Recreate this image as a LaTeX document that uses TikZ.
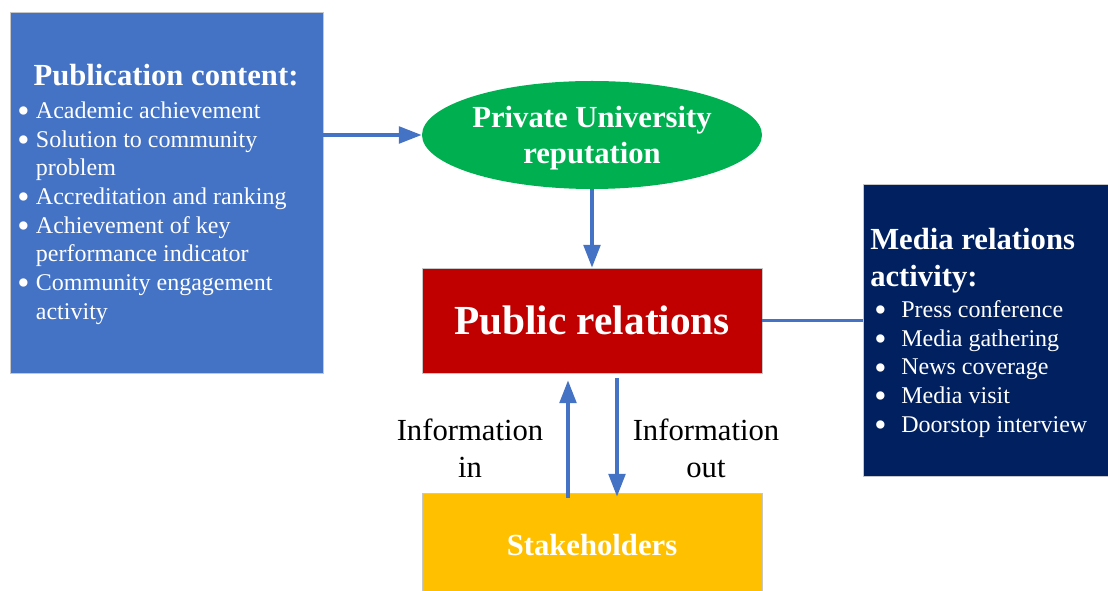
\documentclass[tikz,border=0pt]{standalone}
\usepackage{fontspec}
\setmainfont{Liberation Serif}
\usepackage{xcolor}
\usetikzlibrary{arrows.meta,shapes.geometric}
\definecolor{pubBlue}{HTML}{4472C4}
\definecolor{repGreen}{HTML}{00B050}
\definecolor{prRed}{HTML}{C00000}
\definecolor{stakeGold}{HTML}{FFC000}
\definecolor{mediaNavy}{HTML}{002060}
\newcommand{\itemfont}{\fontsize{18}{21.5}\selectfont}
\newcommand{\headfont}{\fontsize{23}{27.75}\selectfont\bfseries}
\newcommand{\bigdot}{\raisebox{-3.2pt}[0pt][0pt]{\scalebox{1.45}{\textbullet}}}
\newcommand{\lbul}{\makebox[14pt][l]{\bigdot}}
\newcommand{\rbul}{\makebox[20.25pt][l]{\bigdot}}

\begin{document}
\begin{tikzpicture}[x=0.75pt,y=-0.75pt,
    box/.style={draw=black!22, line width=0.6pt, inner sep=0pt, text=white},
    flow/.style={draw=pubBlue, line width=2.4pt, -{Triangle[length=17pt,width=12.5pt]}},
    link/.style={draw=pubBlue, line width=2.4pt}]
     \useasboundingbox (0,0) rectangle (1108,591);
     % Boxes.
     \node[box, draw=none, fill=repGreen, ellipse, minimum width=255pt, minimum height=81pt,
           font=\headfont] (rep) at (592,135)
           {\raisebox{-2.5pt}[\height][\depth]{\fontsize{23}{27}\selectfont\begin{tabular}{@{}c@{}}Private University\\reputation\end{tabular}}};
     \node[box, fill=pubBlue, minimum width=234.75pt, minimum height=270.75pt] (pub) at (166.5,192.5) {};
     \node[box, fill=prRed, minimum width=255pt, minimum height=78.75pt,
           font=\fontsize{31}{36}\selectfont\bfseries] (pr) at (592,320.5) {Public relations};
     \node[box, fill=stakeGold, minimum width=255pt, minimum height=73.5pt,
           font=\headfont] (stake) at (592,542) {\raisebox{-2.6pt}[\height][\depth]{Stakeholders}};
     \node[box, fill=mediaNavy, minimum width=183.75pt, minimum height=219pt] (media) at (985.5,330) {};
     % Box texts.
      \node[text=white, font=\headfont, inner sep=0pt, anchor=base] (pubhead) at (166,86) {Publication content:};
      \node[text=white, font=\itemfont, inner sep=0pt, align=left, anchor=north west] (publist) at (17,101.5)
        {\lbul Academic achievement\\
         \lbul Solution to community\\
         \hspace*{14pt}problem\\
         \lbul Accreditation and ranking\\
         \lbul Achievement of key\\
         \hspace*{14pt}performance indicator\\
         \lbul Community engagement\\
         \hspace*{14pt}activity};
      \node[text=white, font=\headfont, inner sep=0pt, align=left, anchor=north west] (mediahead) at (870,228)
        {Media relations\\activity:};
      \node[text=white, font=\itemfont, inner sep=0pt, align=left, anchor=north west] (medialist) at (874,300.5)
        {\rbul Press conference\\
         \rbul Media gathering\\
         \rbul News coverage\\
         \rbul Media visit\\
         \rbul Doorstop interview};
     % Connectors.
     \draw[flow] (pub.east |- rep.west) -- (rep.west);
     \draw[flow] (rep.south) -- (pr.north);
     \draw[link] (pr.east) -- (media.west |- pr.east);
     \draw[flow] ([xshift=-18pt,yshift=-3.75pt]stake.north) -- ([xshift=-18pt,yshift=-5.25pt]pr.south);
     \draw[flow] ([xshift=18.75pt,yshift=-3.75pt]pr.south) -- ([xshift=18.75pt,yshift=-3pt]stake.north);
     % Flow labels.
      \node[font=\fontsize{23}{27.75}\selectfont, align=center, inner sep=0pt, anchor=north] (infoin) at (470,419) {Information\\in};
      \node[font=\fontsize{23}{27.75}\selectfont, align=center, inner sep=0pt, anchor=north] (infoout) at (706,419) {Information\\out};
   \end{tikzpicture}
\end{document}
